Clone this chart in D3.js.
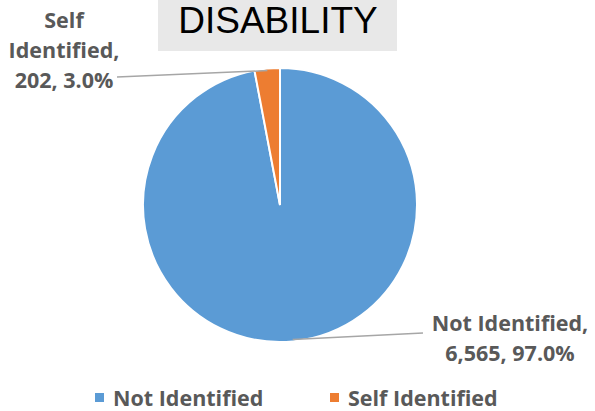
<!DOCTYPE html>
<html><head><meta charset="utf-8">
<script src="https://cdn.jsdelivr.net/npm/d3@7"></script>
<style>body{margin:0;background:#fff}svg{display:block}</style>
</head><body><svg id="c" width="595" height="411"></svg>
<script>
const categories = ["Not Identified", "Self Identified"];
const values = [6565, 202];
const percents = ["97.0%", "3.0%"];
const colors = ["#5B9BD5", "#ED7D31"];
const title = "DISABILITY";

const svg = d3.select("#c");
const cx = 280, cy = 205, r = 137;

svg.append("rect").attr("x",158).attr("y",0).attr("width",239).attr("height",51).attr("fill","#E8E8E8");
svg.append("text").attr("x",278).attr("y",33).attr("text-anchor","middle")
  .attr("font-family","Liberation Sans, Arial, sans-serif").attr("font-size",37).attr("fill","#000").text(title);

const pie = d3.pie().sort(null).value(d=>d)(values);
const arc = d3.arc().innerRadius(0).outerRadius(r);
const g = svg.append("g").attr("transform",`translate(${cx},${cy})`);
g.selectAll("path").data(pie).join("path").attr("d",arc)
  .attr("fill",(d,i)=>colors[i]).attr("stroke","#fff").attr("stroke-width",2);

function angPt(a, rr){ return [cx + rr*Math.sin(a), cy - rr*Math.cos(a)]; }
const aSelf = (pie[1].startAngle+pie[1].endAngle)/2;
const pSelf = angPt(aSelf, r-2);
svg.append("polyline").attr("points",`117,77 ${pSelf[0]},${pSelf[1]}`).attr("stroke","#A6A6A6").attr("stroke-width",1.5).attr("fill","none");
const aNot = (pie[0].startAngle+pie[0].endAngle)/2;
const pNot = angPt(aNot, r-2);
svg.append("polyline").attr("points",`${pNot[0]},${pNot[1]} 423,333`).attr("stroke","#A6A6A6").attr("stroke-width",1.5).attr("fill","none");

const lab = svg.append("g").attr("font-family","Open Sans, Noto Sans, sans-serif")
  .attr("font-weight","bold").attr("font-size",21.5).attr("fill","#595959").attr("text-anchor","middle");
const fmt = d3.format(",");
const selfLines = ["Self", "Identified,", fmt(values[1]) + ", " + percents[1]];
selfLines.forEach((t,i)=>lab.append("text").attr("x",64).attr("y",28+i*30).text(t));
const notLines = [categories[0]+",", fmt(values[0]) + ", " + percents[0]];
notLines.forEach((t,i)=>lab.append("text").attr("x",510).attr("y",331+i*30).text(t));

const leg = svg.append("g").attr("font-family","Open Sans, Noto Sans, sans-serif")
  .attr("font-weight","bold").attr("font-size",21.5).attr("fill","#595959");
const legX = [95, 330];
categories.forEach((c,i)=>{
  leg.append("rect").attr("x",legX[i]).attr("y",393).attr("width",9).attr("height",9).attr("fill",colors[i]);
  leg.append("text").attr("x",legX[i]+18).attr("y",406).text(c);
});
</script></body></html>
